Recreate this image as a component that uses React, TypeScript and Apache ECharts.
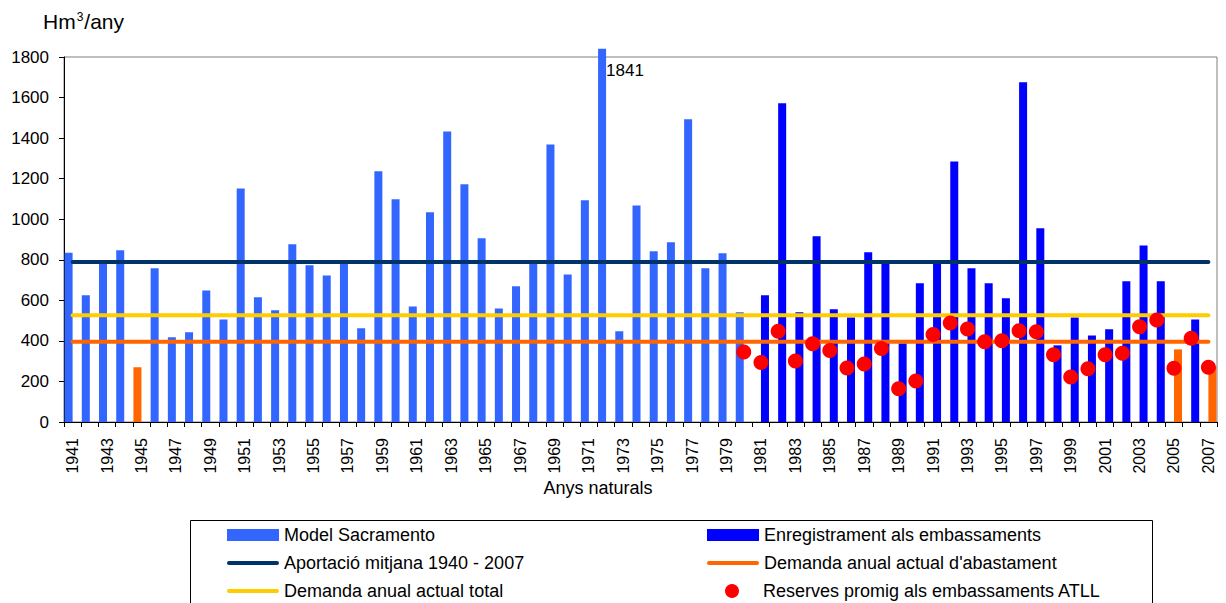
import React, { useEffect, useRef } from "react";
import * as echarts from "echarts";

const years = [
  "1941", "1942", "1943", "1944", "1945", "1946", "1947", "1948", "1949", "1950",
  "1951", "1952", "1953", "1954", "1955", "1956", "1957", "1958", "1959", "1960",
  "1961", "1962", "1963", "1964", "1965", "1966", "1967", "1968", "1969", "1970",
  "1971", "1972", "1973", "1974", "1975", "1976", "1977", "1978", "1979", "1980",
  "1981", "1982", "1983", "1984", "1985", "1986", "1987", "1988", "1989", "1990",
  "1991", "1992", "1993", "1994", "1995", "1996", "1997", "1998", "1999", "2000",
  "2001", "2002", "2003", "2004", "2005", "2006", "2007",
];

// Model Sacramento, 1941 - 1980
const sacramentoYears = years.slice(0, 40);
const sacramento = [
  835, 625, 790, 847, 270, 758, 418, 442, 649, 506,
  1152, 615, 551, 876, 773, 723, 790, 462, 1236, 1098,
  570, 1034, 1433, 1172, 906, 560, 669, 790, 1369, 728,
  1093, 1841, 447, 1068, 842, 886, 1493, 758, 832, 541,
];

// Enregistrament als embassaments, 1981 - 2007
const registreYears = years.slice(40);
const registre = [
  625, 1572, 541, 916, 556, 515, 837, 790, 388, 684,
  790, 1285, 758, 684, 610, 1675, 955, 378, 515, 427,
  457, 694, 871, 694, 358, 506, 275,
];

// Reserves promig als embassaments ATLL, 1980 - 2007
const reservesYears = years.slice(39);
const reserves = [
  345, 294, 447, 301, 386, 353, 266, 286, 362, 164,
  202, 431, 488, 459, 396, 401, 450, 445, 332, 222,
  263, 332, 339, 470, 503, 265, 413, 270,
];

const aportacioMitjana = 789;
const demandaTotal = 526;
const demandaAbastament = 396;

const orangeYears = ["1945", "2005", "2007"];
const labelledYear = "1972";

const FONT = "'Liberation Sans', Arial, Helvetica, sans-serif";

const S_SAC = "Model Sacramento";
const S_REG = "Enregistrament als embassaments";
const S_MIT = "Aportació mitjana 1940 - 2007";
const S_ABA = "Demanda anual actual d'abastament";
const S_TOT = "Demanda anual actual total";
const S_RES = "Reserves promig als embassaments ATLL";

const LINE_ICON = "path://M2,0 L52,0 A2,2 0 0 1 52,4 L2,4 A2,2 0 0 1 2,0 Z";

function barData(subYears: string[], values: number[]) {
  return years.map((y) => {
    const i = subYears.indexOf(y);
    if (i < 0) return null;
    const v = values[i];
    const item: any = { value: v };
    if (orangeYears.includes(y)) item.itemStyle = { color: "#FF6600" };
    if (y === labelledYear) {
      item.label = {
        show: true,
        position: [8, 13],
        formatter: "{c}",
        fontSize: 17,
        color: "#000",
        fontFamily: FONT,
      };
    }
    return item;
  });
}

export default function App() {
  const ref = useRef<HTMLDivElement>(null);

  useEffect(() => {
    if (!ref.current) return;
    const chart = echarts.init(ref.current, undefined, { renderer: "svg" });
    const last = years.length - 1;

    const hLine = (name: string, value: number, color: string) => ({
      type: "line",
      name,
      data: [
        [0, value],
        [last, value],
      ],
      symbol: "none",
      showSymbol: false,
      lineStyle: { color, width: 4, cap: "round" },
      itemStyle: { color },
      z: 3,
      silent: true,
    });

    const legendBase = {
      orient: "vertical",
      itemWidth: 52,
      itemHeight: 12,
      itemGap: 10,
      padding: 0,
      height: 100,
      selectedMode: false,
      textStyle: { fontSize: 18, lineHeight: 18, color: "#000", fontFamily: FONT },
    };

    const option: any = {
      animation: false,
      backgroundColor: "#fff",
      textStyle: { fontFamily: FONT },
      grid: {
        left: 64,
        right: 9,
        top: 57,
        bottom: 181,
        show: true,
        borderColor: "#7f7f7f",
        borderWidth: 1,
        containLabel: false,
        outerBoundsMode: "none",
      },
      xAxis: {
        type: "category",
        data: years,
        boundaryGap: true,
        axisLine: { lineStyle: { color: "#000", width: 1 } },
        axisTick: { show: true, interval: 0, length: 5, lineStyle: { color: "#000" } },
        axisLabel: {
          interval: 1,
          rotate: 90,
          fontSize: 16,
          color: "#000",
          margin: 16,
          fontFamily: FONT,
        },
        splitLine: { show: false },
      },
      yAxis: {
        type: "value",
        min: 0,
        max: 1800,
        interval: 200,
        axisLine: { show: true, lineStyle: { color: "#000", width: 1 } },
        axisTick: { show: true, length: 5, lineStyle: { color: "#000" } },
        axisLabel: {
          fontSize: 17,
          color: "#000",
          margin: 15,
          fontFamily: FONT,
          formatter: (v: number) => String(v),
        },
        splitLine: { show: false },
      },
      legend: [
        {
          ...legendBase,
          left: 227,
          top: 526,
          data: [
            { name: S_SAC, icon: "rect" },
            { name: S_MIT, icon: LINE_ICON },
            { name: S_TOT, icon: LINE_ICON },
          ],
        },
        {
          ...legendBase,
          left: 707,
          top: 526,
          data: [
            { name: S_REG, icon: "rect" },
            { name: S_ABA, icon: LINE_ICON },
          ],
        },
        {
          ...legendBase,
          left: 725,
          top: 582,
          itemHeight: 14,
          data: [{ name: S_RES, icon: "circle" }],
        },
      ],
      graphic: [
        {
          type: "text",
          left: 43,
          top: 11,
          style: {
            text: "{a|Hm}{s|3}{a|/any}",
            rich: {
              a: { fontSize: 21, fontFamily: FONT, fill: "#000", verticalAlign: "bottom" },
              s: { fontSize: 12, fontFamily: FONT, fill: "#000", verticalAlign: "top", padding: [0, 1, 0, 1] },
            },
          },
        },
        {
          type: "text",
          x: 598,
          y: 488,
          style: {
            text: "Anys naturals",
            fontSize: 18,
            fontFamily: FONT,
            fill: "#000",
            align: "center",
            verticalAlign: "middle",
          },
        },
        {
          type: "rect",
          shape: { x: 190.5, y: 520.5, width: 962, height: 120 },
          style: { fill: "none", stroke: "#000", lineWidth: 1 },
          silent: true,
          z: -1,
        },
      ],
      series: [
        {
          type: "bar",
          name: S_SAC,
          data: barData(sacramentoYears, sacramento),
          barGap: "0%",
          barCategoryGap: "7%",
          itemStyle: { color: "#3366FF" },
          clip: false,
          z: 2,
        },
        {
          type: "bar",
          name: S_REG,
          data: barData(registreYears, registre),
          barGap: "0%",
          barCategoryGap: "7%",
          itemStyle: { color: "#0000FF" },
          clip: false,
          z: 2,
        },
        hLine(S_MIT, aportacioMitjana, "#003366"),
        hLine(S_ABA, demandaAbastament, "#FF6600"),
        hLine(S_TOT, demandaTotal, "#FFCC00"),
        {
          type: "scatter",
          name: S_RES,
          data: reservesYears.map((y, i) => [years.indexOf(y), reserves[i]]),
          symbol: "circle",
          symbolSize: 15,
          itemStyle: { color: "#FF0000", opacity: 1 },
          z: 4,
        },
      ],
    };

    chart.setOption(option);
    return () => chart.dispose();
  }, []);

  return (
    <div
      ref={ref}
      style={{ position: "fixed", left: 0, top: 0, width: 1226, height: 603 }}
    />
  );
}
